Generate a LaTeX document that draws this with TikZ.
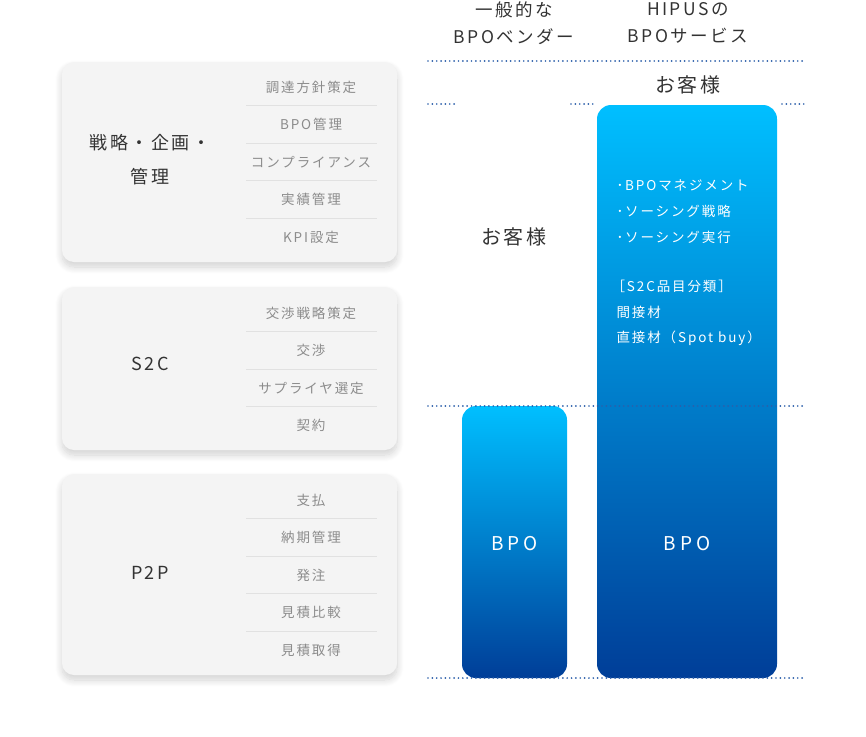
\documentclass[tikz,border=0pt]{standalone}
\usepackage{fontspec}
\setmainfont[LetterSpace=14]{Noto Sans CJK JP}
\usetikzlibrary{shadows.blur}

\definecolor{cardgray}{HTML}{F4F4F4}
\definecolor{rulegray}{HTML}{E1E1E1}
\definecolor{txtdark}{HTML}{333333}
\definecolor{txtgray}{HTML}{8C8C8C}
\definecolor{dotblue}{HTML}{2C5FAA}
\definecolor{bartop}{HTML}{00BFFF}
\definecolor{barbot}{HTML}{003E98}

\tikzset{
  card/.style={fill=cardgray,rounded corners=12pt,inner sep=0pt,minimum width=335pt,
    blur shadow={shadow xshift=0pt,shadow yshift=-5pt,shadow opacity=18,shadow blur radius=7pt,shadow blur steps=10}},
  cardtitle/.style={text=txtdark,font=\fontsize{18}{34}\selectfont,align=center},
  item/.style={text=txtgray,font=\fontsize{13.5}{16}\selectfont},
  sep/.style={rulegray,line width=1pt},
  dots/.style={dotblue,line width=1.9pt,line cap=round,dash pattern=on 0pt off 4.35pt},
  bar/.style={top color=bartop,bottom color=barbot,rounded corners=14pt,inner sep=0pt},
  bartxt/.style={text=white,font=\fontsize{19}{20}\selectfont\addfontfeatures{LetterSpace=22}},
  svc/.style={text=white,anchor=west,font=\fontsize{13.5}{16}\selectfont},
  head/.style={text=txtdark,font=\fontsize{17.5}{27}\selectfont,align=center},
  cust/.style={text=txtdark,font=\fontsize{20}{24}\selectfont},
}

\begin{document}
\begin{tikzpicture}[x=1pt,y=-1pt]
  \useasboundingbox (0,0) rectangle (866,736);

  % left cards
  \node[card,minimum height=200pt] (strat) at (229.5,162) {};
  \node[card,minimum height=163pt] (s2c) at (229.5,368.5) {};
  \node[card,minimum height=201pt] (p2p) at (229.5,574.5) {};

  \node[cardtitle] (strattitle) at (150,160) {戦略・企画・\\管理};
  \node[cardtitle] (s2ctitle) at (150,364) {S2C};
  \node[cardtitle] (p2ptitle) at (150,573) {P2P};

  \foreach \t [count=\i] in {調達方針策定,BPO管理,コンプライアンス,実績管理,KPI設定}
    \node[item] (strat\i) at (311,{87+37.5*(\i-1)}) {\t};
  \foreach \t [count=\i] in {交渉戦略策定,交渉,サプライヤ選定,契約}
    \node[item] (s2c\i) at (311,{313+37.5*(\i-1)}) {\t};
  \foreach \t [count=\i] in {支払,納期管理,発注,見積比較,見積取得}
    \node[item] (p2p\i) at (311,{500+37.5*(\i-1)}) {\t};

  \foreach \y in {105.5,143,180.5,218,331.5,369,406.5,518.5,556,593.5,631}
    \draw[sep] (246,\y) -- (377,\y);

  % headers
  \node[head] (vendor) at (514,23) {一般的な\\BPOベンダー};
  \node[head] (hipus) at (688,23) {HIPUSの\\BPOサービス};

  % bars
  \node[bar,minimum width=105pt,minimum height=272pt] (vbar) at (514.5,542) {};
  \node[bar,minimum width=180pt,minimum height=573pt] (hbar) at (687,391.5) {};
  \node[bartxt] (vbpo) at (vbar.center |- 0,544) {BPO};
  \node[bartxt] (hbpo) at (hbar.center |- 0,544) {BPO};

  \node[cust] (vcust) at (514,237) {お客様};
  \node[cust] (hcust) at (688,85) {お客様};

  \foreach \x/\y/\t [count=\i] in {613/185/{･BPOマネジメント},613/211/{･ソーシング戦略},613/237/{･ソーシング実行},
      608/286/{［S2C品目分類］},613/312/{間接材},613/338/{直接材（Spot buy）}}
    \node[svc] (svc\i) at (\x,\y) {\t};

  % dotted guides
  \draw[dots] (428,61) -- (806,61);
  \draw[dots] (428,104) -- (458,104);
  \draw[dots] (571,104) -- (595,104);
  \draw[dots] (782,104) -- (806,104);
  \draw[dots] (428,406) -- (806,406);
  \draw[dots] (428,678) -- (806,678);
\end{tikzpicture}
\end{document}
